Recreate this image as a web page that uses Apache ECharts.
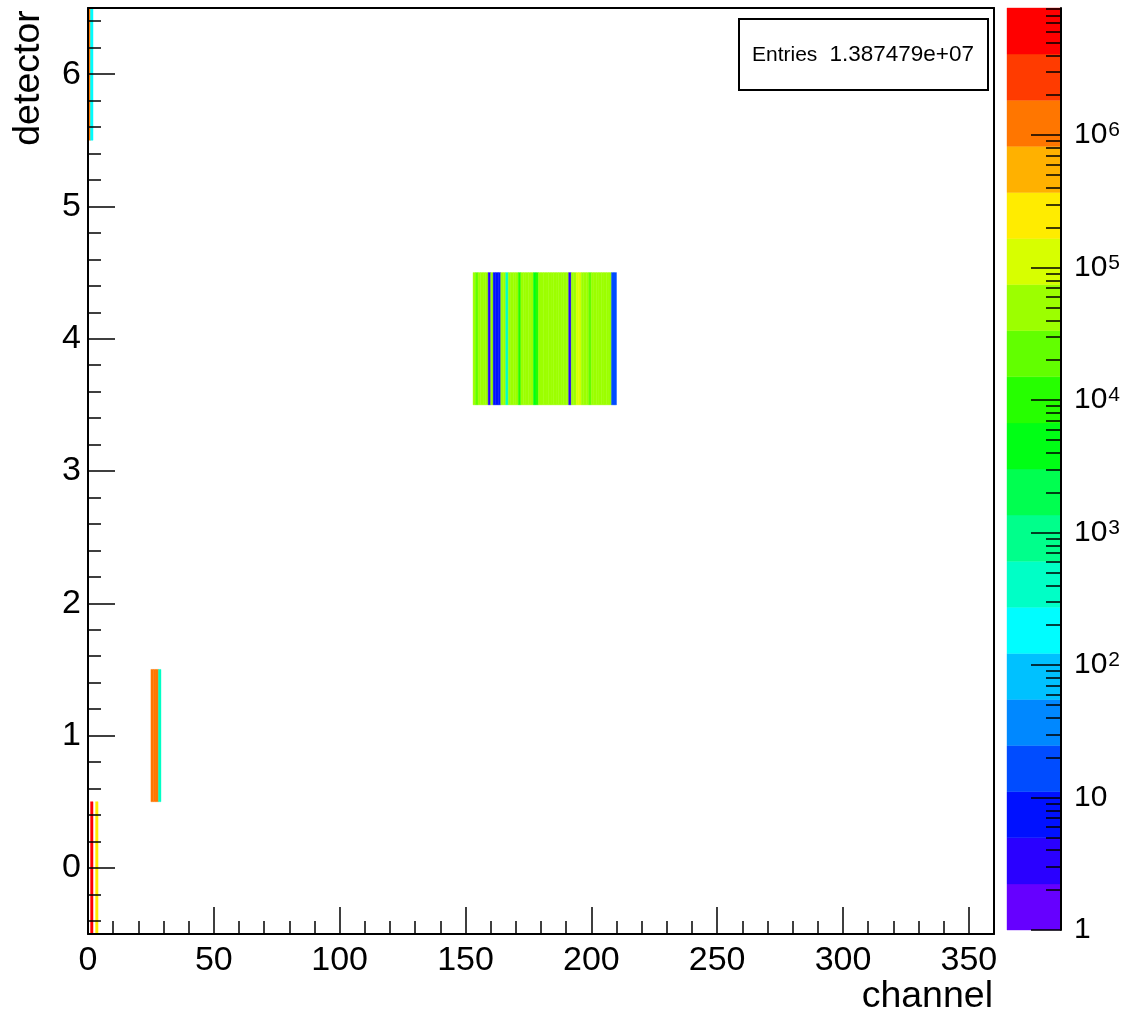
<!DOCTYPE html>
<html><head><meta charset="utf-8">
<script src="https://cdn.jsdelivr.net/npm/echarts@6/dist/echarts.min.js"></script>
<style>html,body{margin:0;padding:0;background:#fff}#c{width:1133px;height:1014px}</style>
</head><body><div id="c"></div>
<script>
// ---- data ----
const det0Channels = [1, 3];
const det0Counts = [6.2e6, 2.5e5];
const det1Channels = [25, 26, 27, 28];
const det1Counts = [1.25e6, 1.3e6, 1.2e6, 420];
const det4Channels = [153,154,155,156,157,158,159,160,161,162,163,164,165,166,167,168,169,170,171,172,173,174,175,176,177,178,179,180,181,182,183,184,185,186,187,188,189,190,191,192,193,194,195,196,197,198,199,200,201,202,203,204,205,206,207,208,209];
const det4Counts = [52000,26000,48000,55000,45000,50000,3,58000,7,8,7,50000,42000,400,47000,52000,38000,50000,10000,48000,53000,45000,40000,50000,4500,9000,46000,40000,52000,49000,36000,50000,54000,47000,50000,44000,51000,48000,3,50000,45000,90000,120000,50000,40000,36000,22000,45000,52000,48000,55000,50000,46000,53000,49000,15,18];
const det6Channels = [0, 1];
const det6Counts = [1.2e6, 190];
const entriesText = '1.387479e+07';

// ---- axis ticks ----
const xTickLabels = [0, 50, 100, 150, 200, 250, 300, 350];
const yTickLabels = [0, 1, 2, 3, 4, 5, 6];
const zTickLabels = [1, 10, 100, 1000, 10000, 100000, 1000000];
const xMinorTicks = [], yMinorTicks = [], zMinorTicks = [];
for (let v = 10; v < 360; v += 10) if (v % 50) xMinorTicks.push(v);
for (let i = -2; i <= 32; i++) { if (i % 5) yMinorTicks.push(+(i * 0.2).toFixed(1)); }
for (let d = 1; d <= 1e6; d *= 10) for (let m = 2; m <= 9; m++) zMinorTicks.push(m * d);

// ---- colour scale ----
const palette = ['#6600ff','#2a00ff','#0011ff','#004cff','#0088ff','#00c1ff','#00fdff','#00ffc6','#00ff8b','#00ff50','#00ff15','#26ff00','#62ff00','#9cff00','#d7ff00','#ffec00','#ffb100','#ff7600','#ff3b00','#ff0000'];
const zMin = 1, zMax = 9.1e6;
const lzMin = Math.log10(zMin), lzMax = Math.log10(zMax);
function colorFor(v) {
  let k = Math.floor((Math.log10(v) - lzMin) / (lzMax - lzMin) * palette.length);
  k = Math.max(0, Math.min(palette.length - 1, k));
  return palette[k];
}

const cells = [];
function addDet(det, chs, cnts) { chs.forEach((c, i) => cells.push([c, det, cnts[i]])); }
addDet(0, det0Channels, det0Counts);
addDet(1, det1Channels, det1Counts);
addDet(4, det4Channels, det4Counts);
addDet(6, det6Channels, det6Counts);

const bands = palette.map((c, k) => [k]);

const FONT = "'Liberation Sans', Arial, Helvetica, sans-serif";
const chart = echarts.init(document.getElementById('c'), null, {renderer: 'canvas'});
const black = '#000';
const noZeroLine = (w) => ({show: true, onZero: false, lineStyle: {color: black, width: w}});
const hidden = {show: false, onZero: false};

chart.setOption({
  animation: false,
  backgroundColor: '#fff',
  grid: [
    {left: 88, top: 8, width: 906, height: 926, show: false},
    {left: 1007, top: 8, width: 54, height: 922, show: false}
  ],
  xAxis: [
    {gridIndex: 0, type: 'value', min: 0, max: 360, position: 'bottom', z: 5,
     axisLine: noZeroLine(2),
     axisTick: {show: true, inside: true, length: 27, customValues: xTickLabels, lineStyle: {color: black, width: 1.5}},
     axisLabel: {show: true, customValues: xTickLabels, fontSize: 34, fontFamily: FONT, color: black, margin: 10},
     splitLine: {show: false}},
    {gridIndex: 0, type: 'value', min: 0, max: 360, position: 'bottom', z: 5,
     axisLine: hidden,
     axisTick: {show: true, inside: true, length: 13, customValues: xMinorTicks, lineStyle: {color: black, width: 1.5}},
     axisLabel: {show: false}, splitLine: {show: false}},
    {gridIndex: 0, type: 'value', min: 0, max: 360, position: 'top', z: 5,
     axisLine: noZeroLine(2),
     axisTick: {show: false}, axisLabel: {show: false}, splitLine: {show: false}},
    {gridIndex: 1, type: 'value', min: 0, max: 1, show: false, axisLine: hidden}
  ],
  yAxis: [
    {gridIndex: 0, type: 'value', min: -0.5, max: 6.5, position: 'left', z: 5,
     axisLine: noZeroLine(2),
     axisTick: {show: true, inside: true, length: 27, customValues: yTickLabels, lineStyle: {color: black, width: 1.5}},
     axisLabel: {show: true, customValues: yTickLabels, fontSize: 34, fontFamily: FONT, color: black, margin: 7},
     splitLine: {show: false}},
    {gridIndex: 0, type: 'value', min: -0.5, max: 6.5, position: 'left', z: 5,
     axisLine: hidden,
     axisTick: {show: true, inside: true, length: 13, customValues: yMinorTicks, lineStyle: {color: black, width: 1.5}},
     axisLabel: {show: false}, splitLine: {show: false}},
    {gridIndex: 0, type: 'value', min: -0.5, max: 6.5, position: 'right', z: 5,
     axisLine: noZeroLine(2),
     axisTick: {show: false}, axisLabel: {show: false}, splitLine: {show: false}},
    {gridIndex: 1, type: 'log', logBase: 10, min: zMin, max: zMax, position: 'right', z: 5,
     axisLine: noZeroLine(2),
     axisTick: {show: true, inside: true, length: 30, customValues: zTickLabels, lineStyle: {color: black, width: 1.5}},
     axisLabel: {show: true, customValues: zTickLabels, margin: 13, color: black, fontFamily: FONT,
       formatter: function (v) {
         const e = Math.round(Math.log10(v));
         if (e === 0) return '{b|1}';
         if (e === 1) return '{b|10}';
         return '{b|10}{s|' + e + '}';
       },
       rich: {
         b: {fontSize: 30, fontFamily: FONT, color: black, lineHeight: 30, verticalAlign: 'bottom'},
         s: {fontSize: 21, fontFamily: FONT, color: black, lineHeight: 21, verticalAlign: 'top', padding: [0, 0, 16, 1]}
       }},
     splitLine: {show: false}},
    {gridIndex: 1, type: 'log', logBase: 10, min: zMin, max: zMax, position: 'right', z: 5,
     axisLine: hidden,
     axisTick: {show: true, inside: true, length: 15, customValues: zMinorTicks, lineStyle: {color: black, width: 1.5}},
     axisLabel: {show: false}, splitLine: {show: false}}
  ],
  series: [
    {type: 'custom', name: 'counts', xAxisIndex: 0, yAxisIndex: 0, z: 2, clip: true,
     data: cells, encode: {x: 0, y: 1},
     renderItem: function (params, api) {
       const ch = api.value(0), det = api.value(1), cnt = api.value(2);
       const p0 = api.coord([ch, det - 0.5]);
       const p1 = api.coord([ch + 1, det + 0.5]);
       const col = colorFor(cnt);
       return {type: 'rect',
         shape: {x: p0[0], y: p1[1], width: p1[0] - p0[0], height: p0[1] - p1[1]},
         style: {fill: col, stroke: col, lineWidth: 0.4}};
     }},
    {type: 'custom', name: 'palette', xAxisIndex: 3, yAxisIndex: 3, z: 2,
     data: bands,
     renderItem: function (params, api) {
       const k = api.value(0);
       const n = palette.length;
       const lo = Math.pow(10, lzMin + (lzMax - lzMin) * k / n);
       const hi = Math.pow(10, lzMin + (lzMax - lzMin) * (k + 1) / n);
       const p0 = api.coord([0, lo]);
       const p1 = api.coord([1, hi]);
       return {type: 'rect',
         shape: {x: p0[0], y: p1[1], width: p1[0] - p0[0], height: p0[1] - p1[1]},
         style: {fill: palette[k], stroke: palette[k], lineWidth: 0.4}};
     }}
  ],
  graphic: [
    {type: 'rect', z: 10, shape: {x: 739, y: 19, width: 249, height: 71},
     style: {fill: '#fff', stroke: black, lineWidth: 2}},
    {type: 'text', z: 11, x: 752, y: 55,
     style: {text: 'Entries', fontSize: 21, fontFamily: FONT, fill: black, align: 'left', verticalAlign: 'middle'}},
    {type: 'text', z: 11, x: 974, y: 55,
     style: {text: entriesText, fontSize: 22.5, fontFamily: FONT, fill: black, align: 'right', verticalAlign: 'middle'}},
    {type: 'text', z: 11, x: 993, y: 997,
     style: {text: 'channel', fontSize: 37.5, fontFamily: FONT, fill: black, align: 'right', verticalAlign: 'middle'}},
    {type: 'text', z: 11, x: 29, y: 78, rotation: Math.PI / 2,
     style: {text: 'detector', fontSize: 37.5, fontFamily: FONT, fill: black, align: 'center', verticalAlign: 'middle'}}
  ]
});
</script>
</body></html>
